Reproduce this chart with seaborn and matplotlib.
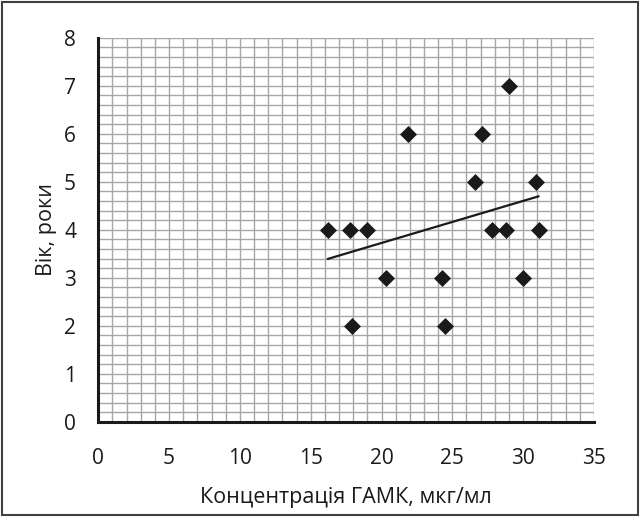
import numpy as np
import pandas as pd
import matplotlib
matplotlib.use("Agg")
import matplotlib.pyplot as plt
import seaborn as sns
from matplotlib.ticker import MultipleLocator
from matplotlib.patches import Rectangle

# concentration of GABA (x) vs age (y)
gaba = [16.2, 17.8, 19.0, 20.3, 21.9, 24.3, 26.6, 27.1, 27.8, 28.8, 29.0, 30.0, 30.9, 31.1, 17.9, 24.5]
age = [4, 4, 4, 3, 6, 3, 5, 6, 4, 4, 7, 3, 5, 4, 2, 2]

df = pd.DataFrame({"gaba": gaba, "age": age})

sns.set_style("white")
plt.rcParams['font.family'] = ['Open Sans', 'DejaVu Sans']

fig = plt.figure(figsize=(6.4, 5.17), dpi=100)
ax = fig.add_axes([0.1536, 0.1843, 0.7744, 0.7427])

ax.set_xlim(0, 35)
ax.set_ylim(0, 8)
ax.xaxis.set_major_locator(MultipleLocator(5))
ax.xaxis.set_minor_locator(MultipleLocator(1))
ax.yaxis.set_major_locator(MultipleLocator(1))
ax.yaxis.set_minor_locator(MultipleLocator(0.2))
ax.grid(which='both', color='#a6a6a6', linewidth=1.0)
ax.set_axisbelow(True)

sns.regplot(data=df, x="gaba", y="age", scatter=False, ci=None, truncate=True,
            line_kws={"color": "#1a1a1a", "linewidth": 1.6}, ax=ax)
sns.scatterplot(data=df, x="gaba", y="age", marker="D", s=75, color="#1a1a1a",
                edgecolor="#1a1a1a", linewidth=0, ax=ax, zorder=3, clip_on=False)

for side in ("top", "right"):
    ax.spines[side].set_visible(False)
for side in ("left", "bottom"):
    ax.spines[side].set_color("#1a1a1a")
    ax.spines[side].set_linewidth(2.2)

ax.tick_params(which='major', direction='out', length=6, width=1.2, color='#1a1a1a',
               labelsize=15, labelcolor='#1a1a1a', pad=10)
ax.tick_params(axis='x', which='major', pad=13)
ax.tick_params(which='minor', length=0)

ax.set_xlabel("Концентрація ГАМК, мкг/мл", fontsize=15.5, color='#1a1a1a', labelpad=13)
ax.set_ylabel("Вік, роки", fontsize=15.5, color='#1a1a1a', labelpad=5)

fig.patches.append(Rectangle((0.003, 0.003), 0.994, 0.994, transform=fig.transFigure,
                             fill=False, edgecolor='#404040', linewidth=1.5))

fig.savefig("out.png", dpi=100)
